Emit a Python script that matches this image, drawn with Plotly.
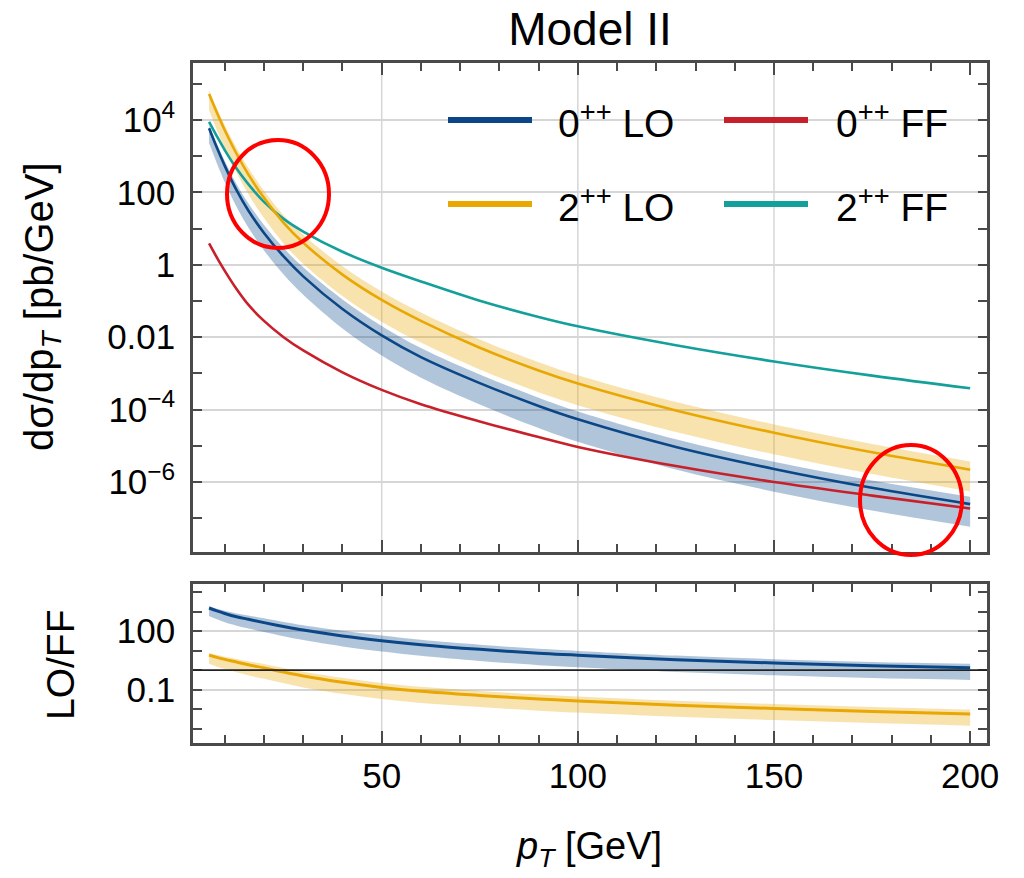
import numpy as np
import plotly.graph_objects as go
from plotly.subplots import make_subplots

# ---------------- data ----------------
pt = [6, 8, 10, 13, 16, 20, 25, 30, 40, 50, 60, 75, 90, 100, 125, 150, 175, 200]

# 0++ LO (central, upper, lower)  [pb/GeV]
lo0 = [5.9e3, 1.7e3, 5.4e2, 1.15e2, 31.6, 7.6, 1.7, 0.48, 0.060, 0.0112, 2.82e-3, 5.4e-4,
       1.26e-4, 5.4e-5, 9.3e-6, 2.3e-6, 6.9e-7, 2.45e-7]
lo0_up = [7.2e3, 2.2e3, 7.4e2, 1.7e2, 50, 12.6, 2.9, 0.85, 0.11, 0.0204, 5.0e-3, 9.3e-4,
          2.14e-4, 8.9e-5, 1.51e-5, 3.6e-6, 1.1e-6, 3.9e-7]
lo0_dn = [2.3e3, 6.3e2, 1.9e2, 40, 10.7, 2.5, 0.54, 0.148, 0.0174, 3.1e-3, 7.6e-4, 1.38e-4,
          3.1e-5, 1.29e-5, 2.2e-6, 5.4e-7, 1.62e-7, 5.8e-8]

# 2++ LO (central, upper, lower)
lo2 = [5.2e4, 1.58e4, 5.2e3, 1.17e3, 316, 70.8, 14.5, 4.07, 0.537, 0.107, 0.0282, 5.1e-3,
       1.2e-3, 5.25e-4, 9.5e-5, 2.29e-5, 6.6e-6, 2.19e-6]
lo2_up = [6.6e4, 2.1e4, 7.2e3, 1.7e3, 479, 112, 23.4, 6.8, 0.91, 0.182, 0.048, 8.7e-3,
          2.04e-3, 8.9e-4, 1.62e-4, 3.9e-5, 1.12e-5, 3.7e-6]
lo2_dn = [1.86e4, 5.2e3, 1.66e3, 355, 91, 19.5, 3.9, 1.07, 0.138, 0.0269, 7.1e-3, 1.29e-3,
          3.0e-4, 1.32e-4, 2.4e-5, 5.8e-6, 1.66e-6, 5.5e-7]

# 0++ FF and 2++ FF
ff0 = [3.9, 1.58, 0.68, 0.214, 0.079, 0.0282, 0.01, 4.3e-3, 1.07e-3, 3.5e-4, 1.41e-4, 4.7e-5,
       1.74e-5, 9.3e-6, 2.75e-6, 1.0e-6, 4.2e-7, 1.86e-7]
ff2 = [8.9e3, 3.55e3, 1.48e3, 457, 170, 55, 18.6, 8.3, 2.29, 0.83, 0.347, 0.102,
       0.0363, 0.020, 6.0e-3, 2.14e-3, 8.7e-4, 3.9e-4]

legend_labels = ["0<sup>++</sup> LO", "0<sup>++</sup> FF", "2<sup>++</sup> LO", "2<sup>++</sup> FF"]

x_ticks = [50, 100, 150, 200]
x_minor = [10, 20, 30, 40, 60, 70, 80, 90, 110, 120, 130, 140, 160, 170, 180, 190]
y1_ticks = [1e4, 1e2, 1, 1e-2, 1e-4, 1e-6]
y1_text = ["10<sup>4</sup>", "100", "1", "0.01", "10<sup>\u22124</sup>", "10<sup>\u22126</sup>"]
y1_minor = [1e5, 1e3, 10, 0.1, 1e-3, 1e-5, 1e-7]
y2_ticks = [100, 0.1]
y2_text = ["100", "0.1"]
y2_minor = [1e4, 1e3, 10, 1, 0.01, 1e-3]

# ---------------- style ----------------
C_BLUE = "#0b4686"
C_YEL = "#e8a702"
C_RED = "#c8202a"
C_TEAL = "#13a09b"
F_BLUE = "rgba(13,74,140,0.32)"
F_YEL = "rgba(232,167,2,0.32)"
FONT = "Liberation Sans, Arial, sans-serif"
FRAME = "#4a4a4a"
GRID = "#d6d6d6"

W, H = 1024, 878
L, R, T, B = 193, 37, 63, 135
PW, PH = W - L - R, H - T - B


def px(xp):
    return (xp - L) / PW


def py(yp):
    return (H - B - yp) / PH


top_dom = [py(552), 1.0]
bot_dom = [0.0, py(584)]
x_range = [1.9, 204.3]
y1_range = [-7.934, 5.575]
y2_range = [-3.74, 4.41]

fig = make_subplots(rows=2, cols=1, shared_xaxes=True, vertical_spacing=0.0)

ptn = np.array(pt, dtype=float)


def arr(a):
    return np.array(a, dtype=float)


def band(x, up, dn, color, row):
    fig.add_trace(go.Scatter(x=x, y=up, mode="lines", line=dict(width=0, shape="spline"),
                             showlegend=False, hoverinfo="skip"), row=row, col=1)
    fig.add_trace(go.Scatter(x=x, y=dn, mode="lines", line=dict(width=0, shape="spline"),
                             fill="tonexty", fillcolor=color, showlegend=False,
                             hoverinfo="skip"), row=row, col=1)


def line(x, y, color, row, name, w=3):
    fig.add_trace(go.Scatter(x=x, y=y, mode="lines", name=name,
                             line=dict(color=color, width=w, shape="spline"),
                             showlegend=False), row=row, col=1)


# ---- top panel ----
band(ptn, lo0_up, lo0_dn, F_BLUE, 1)
band(ptn, lo2_up, lo2_dn, F_YEL, 1)
line(ptn, ff0, C_RED, 1, "0++ FF", 2.6)
line(ptn, ff2, C_TEAL, 1, "2++ FF", 2.6)
line(ptn, lo0, C_BLUE, 1, "0++ LO", 2.6)
line(ptn, lo2, C_YEL, 1, "2++ LO", 2.6)

# ---- bottom panel: LO/FF ----
r0 = arr(lo0) / arr(ff0)
r0_up = arr(lo0_up) / arr(ff0)
r0_dn = arr(lo0_dn) / arr(ff0)
r2 = arr(lo2) / arr(ff2)
r2_up = arr(lo2_up) / arr(ff2)
r2_dn = arr(lo2_dn) / arr(ff2)
band(ptn, r0_up, r0_dn, F_BLUE, 2)
band(ptn, r2_up, r2_dn, F_YEL, 2)
line(ptn, r0, C_BLUE, 2, "0++ LO/FF", 3)
line(ptn, r2, C_YEL, 2, "2++ LO/FF", 3)

tickfont = dict(family=FONT, size=35, color="black")
common_x = dict(range=x_range, tickvals=x_ticks, ticks="inside", ticklen=12, tickwidth=2,
                tickcolor=FRAME, showline=True, linecolor=FRAME, linewidth=2.5,
                mirror="allticks", showgrid=False, zeroline=False,
                minor=dict(tickvals=x_minor, ticks="inside", ticklen=8, tickwidth=2,
                           tickcolor=FRAME, showgrid=False),
                tickfont=tickfont)
fig.update_xaxes(**common_x)
fig.update_xaxes(showticklabels=False, row=1, col=1)
fig.update_xaxes(showticklabels=True, ticklabelstandoff=0, row=2, col=1)

common_y = dict(type="log", ticks="inside", ticklen=9, tickwidth=2, tickcolor=FRAME,
                showline=True, linecolor=FRAME, linewidth=2.5, mirror="allticks",
                showgrid=True, gridcolor=GRID, gridwidth=1.5, zeroline=False,
                tickfont=tickfont, ticklabelstandoff=8)
fig.update_yaxes(**common_y)
fig.update_yaxes(range=y1_range, tickvals=y1_ticks, ticktext=y1_text,
                 minor=dict(tickvals=y1_minor, ticks="inside", ticklen=9, tickwidth=2,
                            tickcolor=FRAME, showgrid=False),
                 domain=top_dom, row=1, col=1)
fig.update_yaxes(range=y2_range, tickvals=y2_ticks, ticktext=y2_text,
                 minor=dict(tickvals=y2_minor, ticks="inside", ticklen=9, tickwidth=2,
                            tickcolor=FRAME, showgrid=False),
                 domain=bot_dom, row=2, col=1)

shapes = []
# vertical grid lines
for xv in [50, 100, 150]:
    for yr in ["y domain", "y2 domain"]:
        shapes.append(dict(type="line", xref="x", yref=yr, x0=xv, x1=xv, y0=0, y1=1,
                           line=dict(color=GRID, width=1.5), layer="below"))
# unity line in ratio panel
y_one = (0 - y2_range[0]) / (y2_range[1] - y2_range[0])
shapes.append(dict(type="line", xref="x2 domain", yref="y2 domain", x0=0, x1=1,
                   y0=y_one, y1=y_one, line=dict(color="#222222", width=1.8)))

# manual legend
leg_rows = [120, 204]
leg_cols = [(448, 532, 556), (724, 808, 834)]
leg_colors = [C_BLUE, C_RED, C_YEL, C_TEAL]
annotations = []
for i, (lab, col) in enumerate(zip(legend_labels, leg_colors)):
    r, c = divmod(i, 2)
    x0, x1, xt = leg_cols[c]
    yy = py(leg_rows[r])
    shapes.append(dict(type="line", xref="paper", yref="paper", x0=px(x0), x1=px(x1),
                       y0=yy, y1=yy, line=dict(color=col, width=6)))
    annotations.append(dict(xref="paper", yref="paper", x=px(xt), y=yy, text=lab,
                            showarrow=False, xanchor="left", yanchor="middle",
                            font=dict(family=FONT, size=39, color="black")))

# red highlight circles
for (cx, cy, rx, ry) in [(278, 194, 51, 54), (911, 500, 51, 55)]:
    shapes.append(dict(type="circle", xref="paper", yref="paper",
                       x0=px(cx - rx), x1=px(cx + rx), y0=py(cy + ry), y1=py(cy - ry),
                       line=dict(color="#ff0000", width=4)))

# axis titles
annotations.append(dict(xref="paper", yref="paper", x=px(42), y=py(307),
                        text="dσ/dp<sub><i>T</i></sub> [pb/GeV]", textangle=-90,
                        showarrow=False, xanchor="center", yanchor="middle",
                        font=dict(family=FONT, size=40, color="black")))
annotations.append(dict(xref="paper", yref="paper", x=px(60), y=py(665),
                        text="LO/FF", textangle=-90,
                        showarrow=False, xanchor="center", yanchor="middle",
                        font=dict(family=FONT, size=39, color="black")))
annotations.append(dict(xref="paper", yref="paper", x=px(589), y=py(849),
                        text="<i>p<sub>T</sub></i> [GeV]",
                        showarrow=False, xanchor="center", yanchor="middle",
                        font=dict(family=FONT, size=38, color="black")))

fig.update_layout(
    width=W, height=H, autosize=False,
    margin=dict(l=L, r=R, t=T, b=B),
    paper_bgcolor="white", plot_bgcolor="white",
    title=dict(text="Model II", x=0.5, xref="paper", y=1 - 29 / H, yanchor="middle",
               font=dict(family=FONT, size=46, color="black")),
    shapes=shapes, annotations=annotations, showlegend=False,
)

fig.write_html("out.html")
